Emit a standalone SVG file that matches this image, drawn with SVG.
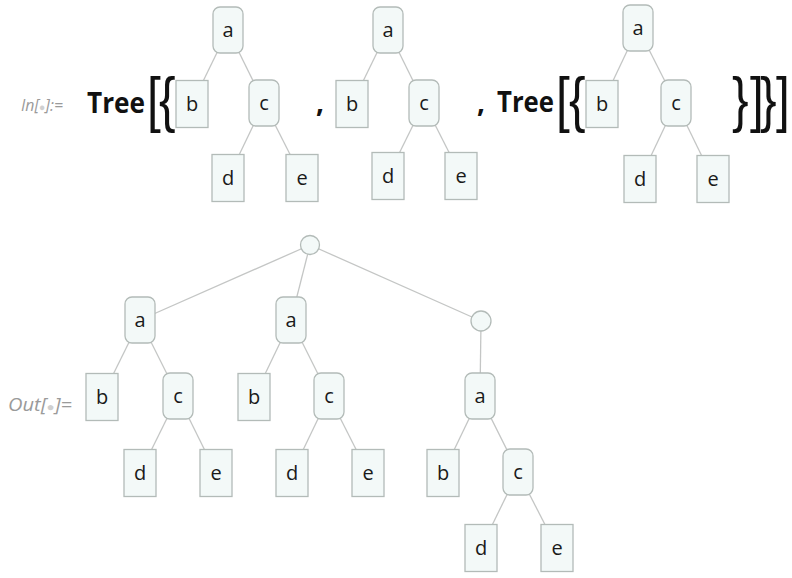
<svg xmlns="http://www.w3.org/2000/svg" width="792" height="578" viewBox="0 0 792 578">
<style>
.bg{fill:#ffffff}
.in{fill:#f3f9f8;stroke:#b3bbb8;stroke-width:1.3}
.lf{fill:#f3f9f8;stroke:#b3bbb8;stroke-width:1.3}
.cn line{stroke:#c4c6c5;stroke-width:1.3}
.t{font-family:"Open Sans","Liberation Sans",sans-serif;font-size:20px;fill:#1a1a1a;text-anchor:middle}
.lab{font-family:"Open Sans","Liberation Sans",sans-serif;font-style:italic;fill:#9a9a9a}
.dot{fill:#d0d0d0}
.kw{font-family:"Open Sans","Liberation Sans",sans-serif;font-weight:bold;font-size:28px;fill:#111}
.br{font-family:"Liberation Sans",sans-serif;font-size:62px;fill:#111}
</style>
<rect class="bg" x="0" y="0" width="792" height="578"/>

<text class="lab" x="21" y="111" font-size="17" textLength="42" lengthAdjust="spacingAndGlyphs">In[<tspan class="dot" font-size="11">●</tspan>]:=</text>
<text class="lab" x="8" y="411" font-size="18" textLength="64" lengthAdjust="spacingAndGlyphs">Out[<tspan class="dot" font-size="12">●</tspan>]=</text>

<text class="kw" x="87" y="113" textLength="58" lengthAdjust="spacingAndGlyphs">Tree</text>
<text class="br" transform="translate(0,120) scale(0.8,1)" x="183.75 198.75">[{</text>
<text class="kw" x="316" y="112">,</text>
<text class="kw" x="477" y="112">,</text>
<text class="kw" x="497" y="112" textLength="57" lengthAdjust="spacingAndGlyphs">Tree</text>
<text class="br" transform="translate(0,120) scale(0.8,1)" x="695 711.25">[{</text>
<text class="br" transform="translate(0,120) scale(0.8,1)" x="915 937.5 950 970">}]}]</text>

<g id="connectors" class="cn">
<line x1="228" y1="30" x2="192" y2="104"/>
<line x1="228" y1="30" x2="264" y2="103"/>
<line x1="264" y1="103" x2="228" y2="178"/>
<line x1="264" y1="103" x2="302" y2="178"/>
<line x1="388" y1="30" x2="352" y2="104"/>
<line x1="388" y1="30" x2="424" y2="103"/>
<line x1="424" y1="103" x2="388" y2="176"/>
<line x1="424" y1="103" x2="461" y2="176"/>
<line x1="638" y1="28" x2="602" y2="104"/>
<line x1="638" y1="28" x2="676" y2="103"/>
<line x1="676" y1="103" x2="640" y2="179"/>
<line x1="676" y1="103" x2="713" y2="179"/>
<line x1="310" y1="245" x2="140" y2="320"/>
<line x1="310" y1="245" x2="291" y2="320"/>
<line x1="310" y1="245" x2="481" y2="321"/>
<line x1="481" y1="321" x2="480" y2="396"/>
<line x1="140" y1="320" x2="102" y2="397"/>
<line x1="140" y1="320" x2="178" y2="396"/>
<line x1="178" y1="396" x2="140" y2="473"/>
<line x1="178" y1="396" x2="216" y2="473"/>
<line x1="291" y1="320" x2="254" y2="397"/>
<line x1="291" y1="320" x2="329" y2="396"/>
<line x1="329" y1="396" x2="292" y2="473"/>
<line x1="329" y1="396" x2="368" y2="473"/>
<line x1="480" y1="396" x2="443" y2="473"/>
<line x1="480" y1="396" x2="518" y2="472"/>
<line x1="518" y1="472" x2="481" y2="548"/>
<line x1="518" y1="472" x2="557" y2="548"/>
</g>

<!-- top tree 1 -->
<g id="t1a"><rect class="in" x="213" y="7" width="30" height="46" rx="7"/><text class="t" x="228" y="37">a</text></g>
<g id="t1b"><rect class="lf" x="176" y="80.5" width="32" height="47"/><text class="t" x="192" y="111">b</text></g>
<g id="t1c"><rect class="in" x="249" y="80" width="30" height="46" rx="7"/><text class="t" x="264" y="110">c</text></g>
<g id="t1d"><rect class="lf" x="212" y="154.5" width="32" height="47"/><text class="t" x="228" y="185">d</text></g>
<g id="t1e"><rect class="lf" x="286" y="154.5" width="32" height="47"/><text class="t" x="302" y="185">e</text></g>

<!-- top tree 2 -->
<g id="t2a"><rect class="in" x="373" y="7" width="30" height="46" rx="7"/><text class="t" x="388" y="37">a</text></g>
<g id="t2b"><rect class="lf" x="336" y="80.5" width="32" height="47"/><text class="t" x="352" y="111">b</text></g>
<g id="t2c"><rect class="in" x="409" y="80" width="30" height="46" rx="7"/><text class="t" x="424" y="110">c</text></g>
<g id="t2d"><rect class="lf" x="372" y="152.5" width="32" height="47"/><text class="t" x="388" y="183">d</text></g>
<g id="t2e"><rect class="lf" x="445" y="152.5" width="32" height="47"/><text class="t" x="461" y="183">e</text></g>

<!-- top tree 3 -->
<g id="t3a"><rect class="in" x="623" y="5" width="30" height="46" rx="7"/><text class="t" x="638" y="35">a</text></g>
<g id="t3b"><rect class="lf" x="586" y="80.5" width="32" height="47"/><text class="t" x="602" y="111">b</text></g>
<g id="t3c"><rect class="in" x="661" y="80" width="30" height="46" rx="7"/><text class="t" x="676" y="110">c</text></g>
<g id="t3d"><rect class="lf" x="624" y="155.5" width="32" height="47"/><text class="t" x="640" y="186">d</text></g>
<g id="t3e"><rect class="lf" x="697" y="155.5" width="32" height="47"/><text class="t" x="713" y="186">e</text></g>

<!-- output tree -->
<g id="root"><circle class="in" cx="310" cy="245" r="9.5"/></g>
<g id="o1a"><rect class="in" x="125" y="297" width="30" height="46" rx="7"/><text class="t" x="140" y="327">a</text></g>
<g id="o1b"><rect class="lf" x="86" y="373.5" width="32" height="47"/><text class="t" x="102" y="404">b</text></g>
<g id="o1c"><rect class="in" x="163" y="373" width="30" height="46" rx="7"/><text class="t" x="178" y="403">c</text></g>
<g id="o1d"><rect class="lf" x="124" y="449.5" width="32" height="47"/><text class="t" x="140" y="480">d</text></g>
<g id="o1e"><rect class="lf" x="200" y="449.5" width="32" height="47"/><text class="t" x="216" y="480">e</text></g>

<g id="o2a"><rect class="in" x="276" y="297" width="30" height="46" rx="7"/><text class="t" x="291" y="327">a</text></g>
<g id="o2b"><rect class="lf" x="238" y="373.5" width="32" height="47"/><text class="t" x="254" y="404">b</text></g>
<g id="o2c"><rect class="in" x="314" y="373" width="30" height="46" rx="7"/><text class="t" x="329" y="403">c</text></g>
<g id="o2d"><rect class="lf" x="276" y="449.5" width="32" height="47"/><text class="t" x="292" y="480">d</text></g>
<g id="o2e"><rect class="lf" x="352" y="449.5" width="32" height="47"/><text class="t" x="368" y="480">e</text></g>

<g id="sub"><circle class="in" cx="481" cy="321" r="10"/></g>
<g id="o3a"><rect class="in" x="465" y="373" width="30" height="46" rx="7"/><text class="t" x="480" y="403">a</text></g>
<g id="o3b"><rect class="lf" x="427" y="449.5" width="32" height="47"/><text class="t" x="443" y="480">b</text></g>
<g id="o3c"><rect class="in" x="503" y="449" width="30" height="46" rx="7"/><text class="t" x="518" y="479">c</text></g>
<g id="o3d"><rect class="lf" x="465" y="524.5" width="32" height="47"/><text class="t" x="481" y="555">d</text></g>
<g id="o3e"><rect class="lf" x="541" y="524.5" width="32" height="47"/><text class="t" x="557" y="555">e</text></g>
</svg>
